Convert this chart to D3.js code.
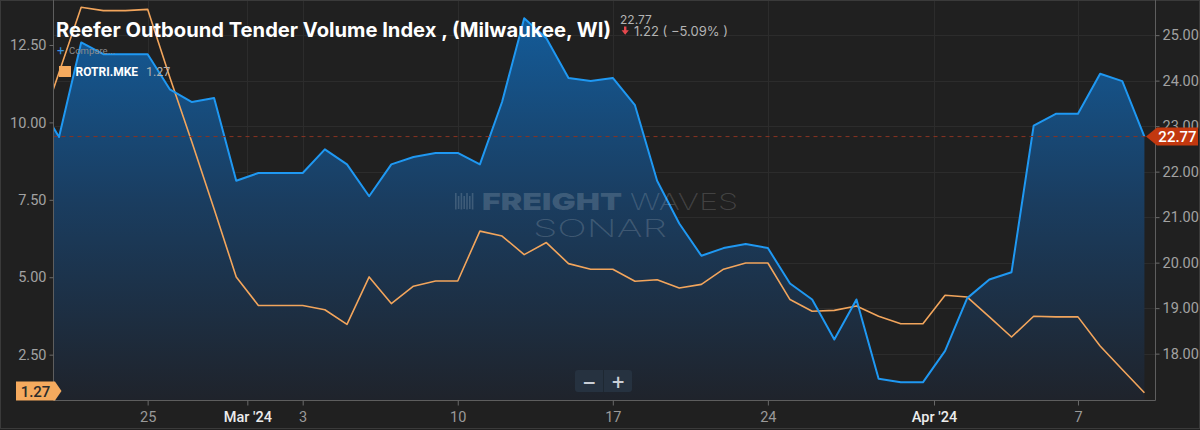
<!DOCTYPE html>
<html>
<head>
<meta charset="utf-8">
<script src="https://cdn.jsdelivr.net/npm/d3@7"></script>
<style>
    body { margin: 0; background: #202020; }
    svg { display: block; }
</style>
</head>
<body>
<svg id="chart" width="1200" height="430"></svg>
<script>
// Daily values, Feb 20 (just left of the view) to Apr 10 2024
const dates = [
    '2024-02-20', '2024-02-21', '2024-02-22', '2024-02-23', '2024-02-24', '2024-02-25', '2024-02-26',
    '2024-02-27', '2024-02-28', '2024-02-29', '2024-03-01', '2024-03-02', '2024-03-03', '2024-03-04',
    '2024-03-05', '2024-03-06', '2024-03-07', '2024-03-08', '2024-03-09', '2024-03-10', '2024-03-11',
    '2024-03-12', '2024-03-13', '2024-03-14', '2024-03-15', '2024-03-16', '2024-03-17', '2024-03-18',
    '2024-03-19', '2024-03-20', '2024-03-21', '2024-03-22', '2024-03-23', '2024-03-24', '2024-03-25',
    '2024-03-26', '2024-03-27', '2024-03-28', '2024-03-29', '2024-03-30', '2024-03-31', '2024-04-01',
    '2024-04-02', '2024-04-03', '2024-04-04', '2024-04-05', '2024-04-06', '2024-04-07', '2024-04-08',
    '2024-04-09', '2024-04-10'
];

// Reefer Outbound Tender Volume Index, right axis
const tenderVolume = [
    23.57, 22.76, 24.84, 24.58, 24.58, 24.58, 23.81, 23.53, 23.62, 21.80,
    21.97, 21.97, 21.97, 22.49, 22.16, 21.46, 22.16, 22.32, 22.41, 22.41,
    22.16, 23.53, 25.37, 24.93, 24.06, 23.99, 24.06, 23.46, 21.80, 20.86,
    20.15, 20.32, 20.41, 20.32, 19.54, 19.19, 18.31, 19.19, 17.45, 17.37, 17.37,
    18.06, 19.22, 19.63, 19.79, 23.01, 23.27, 23.27, 24.15, 23.99, 22.77
];

// ROTRI.MKE, left axis
const tenderRejection = [
    9.52, 11.61, 13.72, 13.61, 13.61, 13.65, 11.46, 9.36, 7.20, 5.01,
    4.09, 4.09, 4.09, 3.95, 3.48, 5.01, 4.15, 4.71, 4.88, 4.88,
    6.49, 6.33, 5.73, 6.12, 5.44, 5.26, 5.26, 4.87, 4.92, 4.65,
    4.77, 5.26, 5.46, 5.46, 4.28, 3.90, 3.93, 4.07, 3.74, 3.50, 3.50,
    4.42, 4.36, 3.72, 3.07, 3.74, 3.72, 3.72, 2.78, 2.02, 1.27
];

const weekTicks = ['2024-02-25', '2024-03-03', '2024-03-10', '2024-03-17', '2024-03-24', '2024-04-07'];
const monthTicks = ['2024-03-01', '2024-04-01'];
const leftTicks = [2.5, 5, 7.5, 10, 12.5];
const rightTicks = [18, 19, 20, 21, 22, 23, 24, 25];

const chartTitle = 'Reefer Outbound Tender Volume Index , (Milwaukee, WI)';
const seriesName = 'ROTRI.MKE';

const width = 1200;
const height = 430;
const plot = { left: 53.5, right: 1155.5, top: 1, bottom: 400.5 };

const parseDay = d3.timeParse('%Y-%m-%d');
const atNoon = s => d3.timeHour.offset(parseDay(s), 12);

const volumeData = dates.map((d, i) => ({ date: atNoon(d), value: tenderVolume[i] }));
const rejectionData = dates.map((d, i) => ({ date: atNoon(d), value: tenderRejection[i] }));

const svg = d3.select('#chart');

function setBackground(svg) {
    svg.append('rect')
        .attr('x', 0.5)
        .attr('y', 0.5)
        .attr('width', width - 1)
        .attr('height', height - 2)
        .attr('fill', '#202020')
        .attr('stroke', '#3a3a3a');
}

function styleTicks(g, color, size) {
    g.select('.domain').remove();
    g.selectAll('.tick line').attr('stroke', '#6a6a6a');
    g.selectAll('.tick text')
        .attr('fill', color)
        .style('font-family', 'Roboto, sans-serif')
        .style('font-size', size);
}

setBackground(svg);

const xScale = d3.scaleTime()
    .domain([d3.timeHour.offset(parseDay('2024-02-21'), 6), parseDay('2024-04-11')])
    .range([plot.left, plot.right]);

const yLeft = d3.scaleLinear()
    .domain([1.02, 13.92])
    .range([plot.bottom, plot.top]);

const yRight = d3.scaleLinear()
    .domain([16.97, 25.75])
    .range([plot.bottom, plot.top]);

const weekDates = weekTicks.map(atNoon);
const monthDates = monthTicks.map(parseDay);
const xTickValues = weekDates.concat(monthDates).sort((a, b) => a - b);
const isMonth = d => d.getDate() === 1 && d.getHours() === 0;

// grid
const grid = svg.append('g').attr('id', 'grid');
grid.selectAll('.hgrid')
    .data(rightTicks)
    .join('line')
    .attr('class', 'hgrid')
    .attr('x1', plot.left)
    .attr('x2', plot.right)
    .attr('y1', d => Math.round(yRight(d)) + 0.5)
    .attr('y2', d => Math.round(yRight(d)) + 0.5)
    .attr('stroke', '#2c2c2c');
grid.selectAll('.vgrid')
    .data(xTickValues)
    .join('line')
    .attr('class', 'vgrid')
    .attr('x1', d => Math.round(xScale(d)) + 0.5)
    .attr('x2', d => Math.round(xScale(d)) + 0.5)
    .attr('y1', plot.top)
    .attr('y2', plot.bottom)
    .attr('stroke', '#2c2c2c');

// clip to plot area
svg.append('clipPath')
    .attr('id', 'plot-clip')
    .append('rect')
    .attr('x', plot.left)
    .attr('y', plot.top)
    .attr('width', plot.right - plot.left)
    .attr('height', plot.bottom - plot.top);

const gradient = svg.append('defs')
    .append('linearGradient')
    .attr('id', 'area-fill')
    .attr('gradientUnits', 'userSpaceOnUse')
    .attr('x1', 0).attr('y1', plot.top)
    .attr('x2', 0).attr('y2', plot.bottom);
gradient.append('stop').attr('offset', '0%').attr('stop-color', '#135e9e');
gradient.append('stop').attr('offset', '50%').attr('stop-color', '#1a3d60');
gradient.append('stop').attr('offset', '100%').attr('stop-color', '#1f232b');

const chartArea = svg.append('g').attr('clip-path', 'url(#plot-clip)');

const area = d3.area()
    .x(d => xScale(d.date))
    .y0(plot.bottom)
    .y1(d => yRight(d.value));

chartArea.append('path')
    .datum(volumeData)
    .attr('d', area)
    .attr('fill', 'url(#area-fill)');

// watermark
const mark = svg.append('g').attr('id', 'watermark').attr('fill', '#ffffff').attr('fill-opacity', 0.16);
[0, 1, 2, 3, 4, 5, 6].forEach(i => {
    mark.append('rect')
        .attr('x', 455 + i * 2.8)
        .attr('y', i % 2 ? 196 : 193)
        .attr('width', 1.6)
        .attr('height', i % 2 ? 13 : 16.5);
});
mark.append('text')
    .attr('x', 482)
    .attr('y', 209.5)
    .attr('textLength', 140)
    .attr('lengthAdjust', 'spacingAndGlyphs')
    .style('font-family', 'Inter, sans-serif')
    .style('font-size', '23px')
    .style('font-weight', 900)
    .text('FREIGHT');
mark.append('text')
    .attr('x', 630)
    .attr('y', 209.5)
    .attr('textLength', 108)
    .attr('lengthAdjust', 'spacingAndGlyphs')
    .style('font-family', 'Inter, sans-serif')
    .style('font-size', '23px')
    .style('font-weight', 200)
    .text('WAVES');
mark.append('text')
    .attr('x', 533)
    .attr('y', 237)
    .attr('textLength', 134)
    .attr('lengthAdjust', 'spacingAndGlyphs')
    .style('font-family', 'Inter, sans-serif')
    .style('font-size', '24px')
    .style('font-weight', 200)
    .text('SONAR');

// last value guide
svg.append('line')
    .attr('x1', plot.left)
    .attr('x2', plot.right)
    .attr('y1', yRight(tenderVolume[tenderVolume.length - 1]))
    .attr('y2', yRight(tenderVolume[tenderVolume.length - 1]))
    .attr('stroke', '#8a3322')
    .attr('stroke-dasharray', '4,4');

const line = scale => d3.line()
    .x(d => xScale(d.date))
    .y(d => scale(d.value));

chartArea.append('path')
    .datum(rejectionData)
    .attr('d', line(yLeft))
    .attr('fill', 'none')
    .attr('stroke', '#f2a55c')
    .attr('stroke-width', 1.6)
    .attr('stroke-linejoin', 'round');

chartArea.append('path')
    .datum(volumeData)
    .attr('d', line(yRight))
    .attr('fill', 'none')
    .attr('stroke', '#1f98f2')
    .attr('stroke-width', 2)
    .attr('stroke-linejoin', 'round');

// frame lines
svg.append('path')
    .attr('d', `M${plot.left},0V${plot.bottom}H${plot.right}V0`)
    .attr('fill', 'none')
    .attr('stroke', '#5e5e5e');

// axes
const leftAxis = svg.append('g')
    .attr('transform', `translate(${plot.left},0)`)
    .call(d3.axisLeft(yLeft).tickValues(leftTicks).tickFormat(d3.format('.2f')).tickSize(4).tickPadding(3));
styleTicks(leftAxis, '#a2a2a2', '14.5px');

const rightAxis = svg.append('g')
    .attr('transform', `translate(${plot.right},0)`)
    .call(d3.axisRight(yRight).tickValues(rightTicks).tickFormat(d3.format('.2f')).tickSize(4).tickPadding(3));
styleTicks(rightAxis, '#a2a2a2', '14.5px');

const xAxis = svg.append('g')
    .attr('transform', `translate(0,${plot.bottom})`)
    .call(d3.axisBottom(xScale)
        .tickValues(xTickValues)
        .tickFormat(d => isMonth(d) ? d3.timeFormat("%b '%y")(d) : d3.timeFormat('%-d')(d))
        .tickSize(5)
        .tickPadding(6));
styleTicks(xAxis, '#9a9a9a', '14.5px');
xAxis.selectAll('.tick text')
    .filter(d => isMonth(d))
    .attr('fill', '#ececec')
    .style('font-weight', 500);

// last value markers
function addValueTag(points, tx, ty, fill, textColor, label) {
    svg.append('polygon')
        .attr('points', points.map(p => p.join(',')).join(' '))
        .attr('fill', fill);
    svg.append('text')
        .attr('x', tx)
        .attr('y', ty)
        .attr('text-anchor', 'middle')
        .attr('dominant-baseline', 'central')
        .attr('fill', textColor)
        .style('font-family', 'Roboto, sans-serif')
        .style('font-size', '15px')
        .style('font-weight', 500)
        .text(label);
}

const lastVolume = tenderVolume[tenderVolume.length - 1];
const prevVolume = tenderVolume[tenderVolume.length - 2];
const lastRejection = tenderRejection[tenderRejection.length - 1];

const vy = yRight(lastVolume);
addValueTag([[1146, vy], [1157, vy - 9], [1198, vy - 9], [1198, vy + 9], [1157, vy + 9]],
    1177.5, vy + 0.5, '#c2380f', '#ffffff', lastVolume.toFixed(2));

const ry = Math.min(yLeft(lastRejection), plot.bottom - 9.5);
addValueTag([[16, ry - 9.5], [55, ry - 9.5], [61.5, ry], [55, ry + 9.5], [16, ry + 9.5]],
    35.5, ry + 0.5, '#f5aa5e', '#2b2b2b', lastRejection.toFixed(2));

// title block
svg.append('text')
    .attr('x', 56)
    .attr('y', 37)
    .attr('fill', '#ffffff')
    .attr('textLength', 555)
    .attr('lengthAdjust', 'spacingAndGlyphs')
    .style('font-family', 'Inter, sans-serif')
    .style('font-size', '20px')
    .style('font-weight', 700)
    .text(chartTitle);

svg.append('text')
    .attr('x', 620)
    .attr('y', 24)
    .attr('fill', '#b4b4b4')
    .style('font-family', 'Inter, sans-serif')
    .style('font-size', '12px')
    .text(lastVolume.toFixed(2));

const change = lastVolume - prevVolume;
svg.append('path')
    .attr('d', 'M624,26.5h2.4v3.8h2.4l-3.6,4.4l-3.6,-4.4h2.4z')
    .attr('fill', '#e5484d');
svg.append('text')
    .attr('x', 634)
    .attr('y', 36)
    .attr('fill', '#b4b4b4')
    .style('font-family', 'Inter, sans-serif')
    .style('font-size', '13px')
    .text(`${Math.abs(change).toFixed(2)} ( ${d3.format('.2f')(change / prevVolume * 100)}% )`);

// legend
svg.append('text')
    .attr('x', 57)
    .attr('y', 55)
    .attr('fill', '#3592e0')
    .style('font-family', 'Roboto, sans-serif')
    .style('font-size', '13px')
    .text('+');
svg.append('text')
    .attr('x', 69)
    .attr('y', 54)
    .attr('fill', '#8c8c8c')
    .style('font-family', 'Roboto, sans-serif')
    .style('font-size', '9.5px')
    .text('Compare...');
svg.append('rect')
    .attr('x', 59)
    .attr('y', 66)
    .attr('width', 12)
    .attr('height', 11)
    .attr('fill', '#f5aa5e');
svg.append('text')
    .attr('x', 75.5)
    .attr('y', 75.5)
    .attr('fill', '#ffffff')
    .style('font-family', 'Roboto, sans-serif')
    .style('font-size', '12px')
    .style('font-weight', 700)
    .text(seriesName);
svg.append('text')
    .attr('x', 146)
    .attr('y', 75.5)
    .attr('fill', '#b0b0b0')
    .style('font-family', 'Roboto, sans-serif')
    .style('font-size', '12.5px')
    .text(lastRejection.toFixed(2));

// zoom buttons
const zoomBox = svg.append('g').attr('id', 'zoom-buttons');
zoomBox.append('rect')
    .attr('x', 575)
    .attr('y', 370)
    .attr('width', 57)
    .attr('height', 22)
    .attr('rx', 3)
    .attr('fill', '#263240');
zoomBox.append('line')
    .attr('x1', 603.5).attr('x2', 603.5)
    .attr('y1', 370).attr('y2', 392)
    .attr('stroke', '#1e2832');
zoomBox.selectAll('.zoom-label')
    .data([{ x: 589, t: '\u2212' }, { x: 618, t: '+' }])
    .join('text')
    .attr('class', 'zoom-label')
    .attr('x', d => d.x)
    .attr('y', 381.5)
    .attr('text-anchor', 'middle')
    .attr('dominant-baseline', 'central')
    .attr('fill', '#c9ced6')
    .style('font-family', 'DejaVu Sans, sans-serif')
    .style('font-size', '17px')
    .style('font-weight', 700)
    .text(d => d.t);
</script>
</body>
</html>
